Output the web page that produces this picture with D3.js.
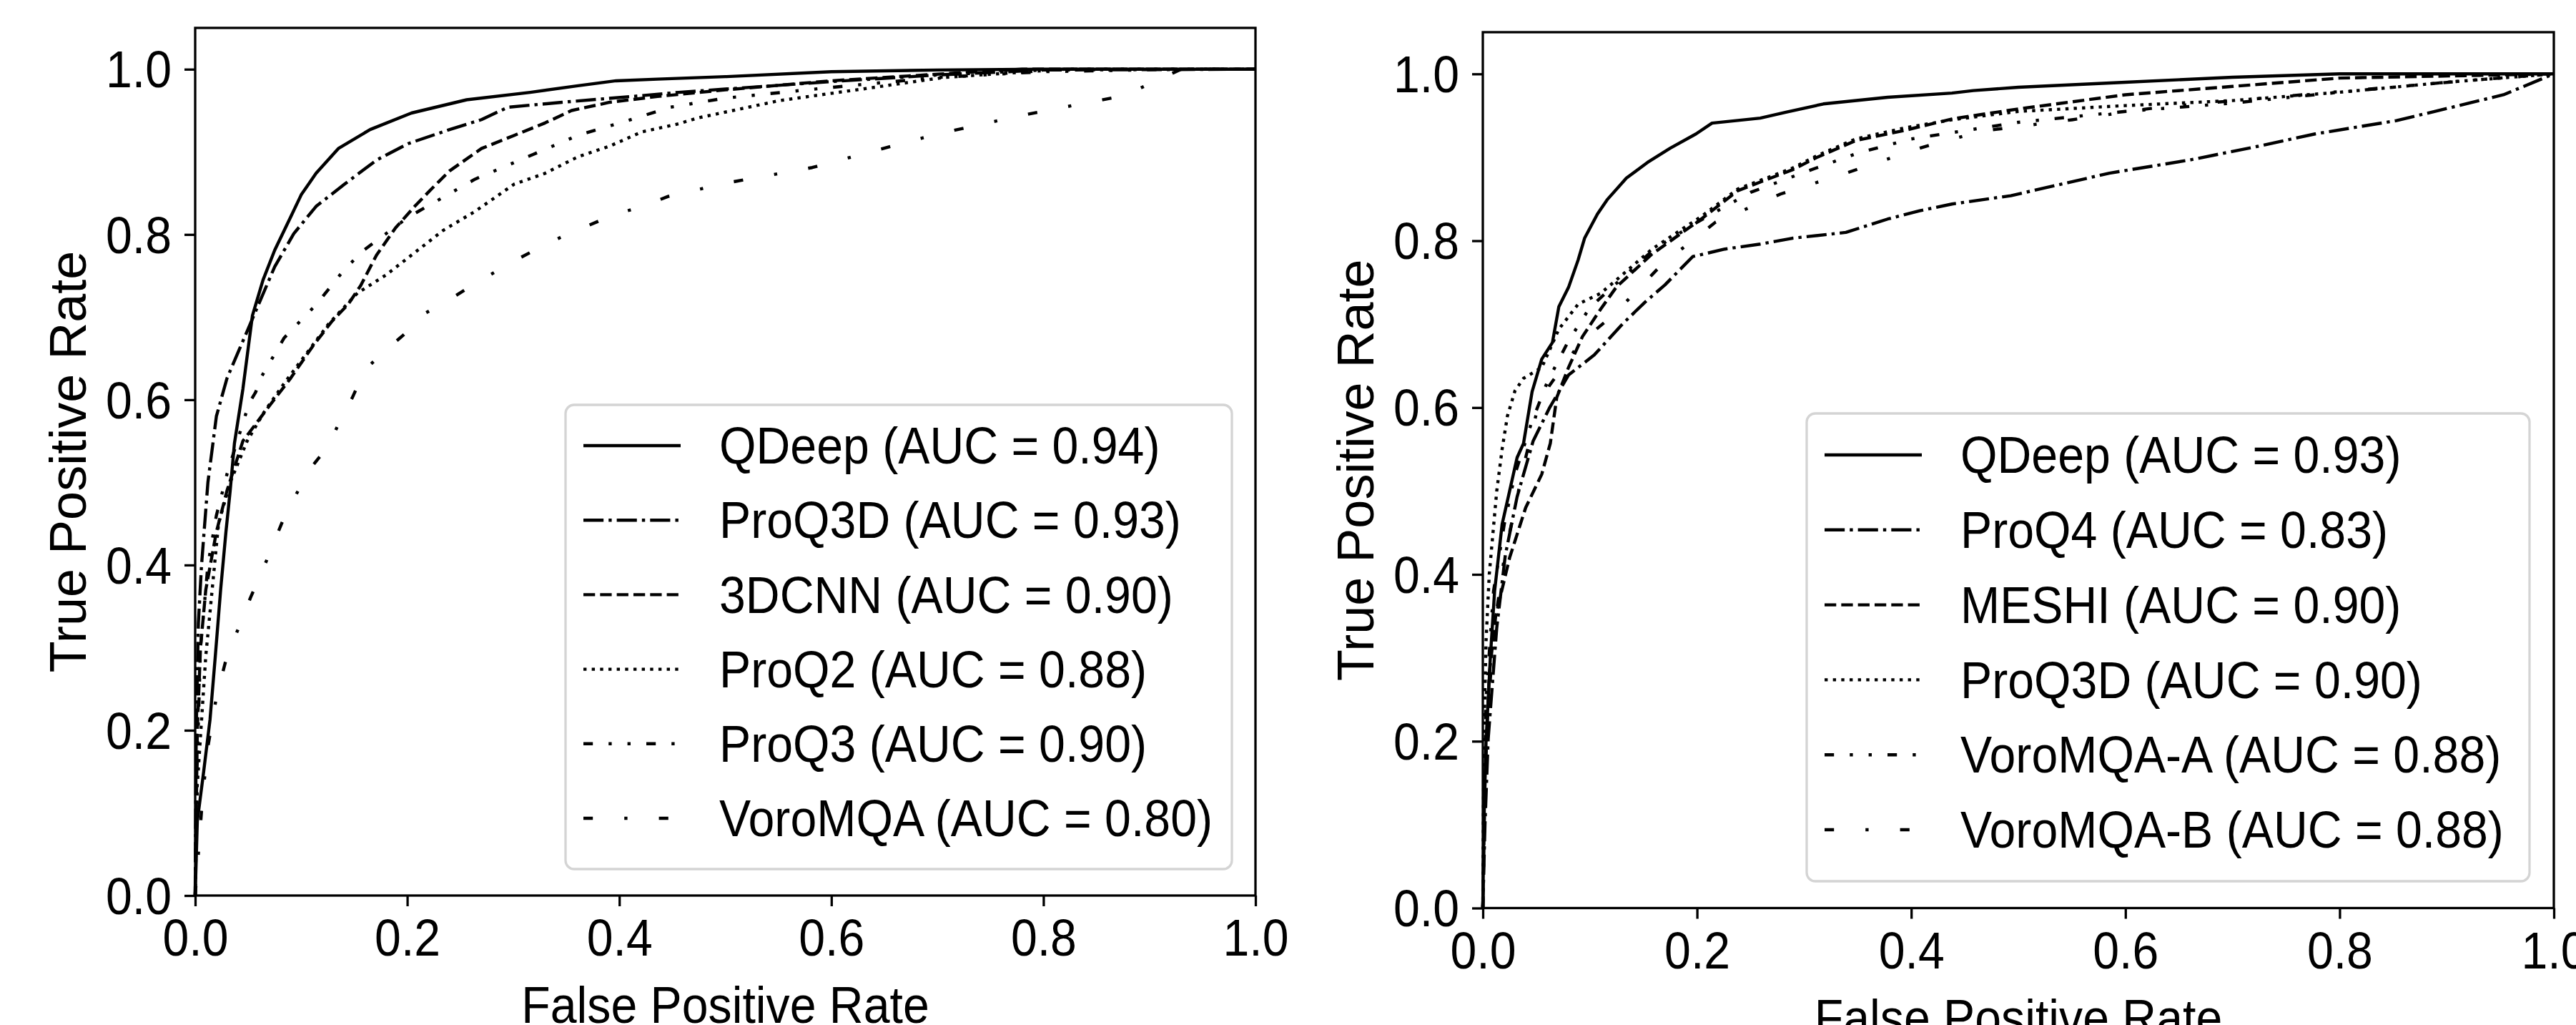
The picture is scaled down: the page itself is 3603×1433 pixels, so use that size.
<!DOCTYPE html>
<html>
<head>
<meta charset="utf-8">
<script src="https://cdn.jsdelivr.net/npm/d3@7"></script>
<style>
  body { margin: 0; background: #fff; }
  text { font-family: "Liberation Sans", Arial, Helvetica, sans-serif; fill: #000; }
</style>
</head>
<body>
<div id="chart"></div>
<script>
// ROC points, [false positive rate, true positive rate]
const qdeepLeft = [[0,0],[0.002,0.09],[0.008,0.15],[0.014,0.213],[0.019,0.29],[0.024,0.37],[0.029,0.44],[0.033,0.49],[0.037,0.547],[0.045,0.613],[0.054,0.702],[0.064,0.745],[0.075,0.781],[0.09,0.821],[0.1,0.848],[0.114,0.874],[0.135,0.904],[0.165,0.927],[0.204,0.947],[0.256,0.963],[0.316,0.972],[0.361,0.98],[0.397,0.986],[0.436,0.988],[0.5,0.991],[0.6,0.997],[0.7,0.999],[0.8,1],[1,1]];
const proq3dLeft = [[0,0],[0.001,0.2],[0.003,0.33],[0.006,0.4],[0.012,0.5],[0.02,0.58],[0.03,0.626],[0.042,0.662],[0.057,0.707],[0.075,0.761],[0.093,0.801],[0.114,0.834],[0.141,0.861],[0.171,0.89],[0.201,0.91],[0.24,0.927],[0.27,0.939],[0.295,0.954],[0.346,0.96],[0.421,0.968],[0.456,0.972],[0.5,0.976],[0.6,0.985],[0.7,0.993],[0.8,0.999],[1,1]];
const cnnLeft = [[0,0],[0.002,0.2],[0.005,0.3],[0.01,0.37],[0.02,0.44],[0.03,0.49],[0.045,0.55],[0.072,0.596],[0.09,0.626],[0.111,0.665],[0.129,0.695],[0.144,0.715],[0.156,0.738],[0.171,0.775],[0.189,0.808],[0.207,0.834],[0.222,0.854],[0.24,0.877],[0.27,0.904],[0.301,0.92],[0.33,0.935],[0.355,0.95],[0.391,0.96],[0.436,0.967],[0.5,0.975],[0.6,0.986],[0.7,0.994],[0.78,1],[1,1]];
const proq2Left = [[0,0],[0.002,0.134],[0.01,0.29],[0.022,0.45],[0.033,0.5],[0.049,0.55],[0.065,0.585],[0.084,0.62],[0.105,0.656],[0.126,0.692],[0.153,0.729],[0.18,0.751],[0.207,0.778],[0.234,0.805],[0.264,0.828],[0.301,0.861],[0.33,0.874],[0.361,0.894],[0.391,0.907],[0.421,0.924],[0.456,0.934],[0.474,0.941],[0.551,0.962],[0.629,0.976],[0.706,0.99],[0.82,1],[1,1]];
const proq3Left = [[0,0],[0.001,0.12],[0.005,0.3],[0.012,0.4],[0.02,0.46],[0.03,0.51],[0.046,0.576],[0.051,0.596],[0.057,0.609],[0.063,0.629],[0.084,0.675],[0.114,0.715],[0.141,0.758],[0.159,0.781],[0.201,0.821],[0.264,0.867],[0.319,0.897],[0.361,0.92],[0.406,0.937],[0.448,0.954],[0.5,0.965],[0.6,0.978],[0.7,0.99],[0.8,0.997],[0.93,1],[1,1]];
const voroLeft = [[0,0],[0.003,0.05],[0.007,0.12],[0.012,0.18],[0.02,0.24],[0.03,0.29],[0.041,0.324],[0.052,0.36],[0.064,0.395],[0.084,0.458],[0.107,0.514],[0.126,0.545],[0.136,0.573],[0.148,0.602],[0.16,0.636],[0.177,0.657],[0.197,0.679],[0.213,0.702],[0.236,0.718],[0.257,0.735],[0.278,0.751],[0.301,0.768],[0.323,0.783],[0.347,0.798],[0.371,0.811],[0.395,0.824],[0.422,0.834],[0.446,0.846],[0.5,0.862],[0.582,0.881],[0.698,0.921],[0.783,0.945],[0.876,0.968],[0.93,1],[1,1]];

const qdeepRight = [[0,0],[0.001,0.1],[0.003,0.2],[0.007,0.3],[0.011,0.38],[0.018,0.46],[0.025,0.5],[0.032,0.54],[0.038,0.557],[0.046,0.619],[0.055,0.658],[0.065,0.678],[0.071,0.721],[0.08,0.744],[0.089,0.777],[0.095,0.803],[0.107,0.832],[0.116,0.849],[0.134,0.875],[0.155,0.895],[0.175,0.911],[0.199,0.928],[0.214,0.941],[0.259,0.947],[0.283,0.954],[0.318,0.964],[0.378,0.972],[0.438,0.977],[0.458,0.98],[0.5,0.984],[0.6,0.99],[0.7,0.996],[0.8,1],[1,1]];
const proq4Right = [[0,0],[0.002,0.1],[0.005,0.203],[0.013,0.336],[0.021,0.423],[0.032,0.493],[0.047,0.56],[0.062,0.599],[0.08,0.639],[0.104,0.663],[0.131,0.701],[0.152,0.727],[0.17,0.747],[0.196,0.781],[0.226,0.79],[0.259,0.796],[0.289,0.803],[0.339,0.81],[0.378,0.826],[0.408,0.836],[0.438,0.844],[0.493,0.854],[0.585,0.881],[0.661,0.897],[0.723,0.913],[0.777,0.928],[0.853,0.944],[0.892,0.956],[0.953,0.975],[1,1]];
const meshiRight = [[0,0],[0.002,0.15],[0.006,0.28],[0.012,0.35],[0.025,0.42],[0.04,0.48],[0.055,0.52],[0.063,0.557],[0.069,0.612],[0.08,0.648],[0.093,0.685],[0.11,0.718],[0.125,0.745],[0.158,0.784],[0.205,0.827],[0.238,0.86],[0.289,0.885],[0.312,0.9],[0.348,0.92],[0.393,0.932],[0.438,0.946],[0.5,0.958],[0.6,0.975],[0.7,0.985],[0.8,0.995],[1,1]];
const proq3dRight = [[0,0],[0.001,0.2],[0.003,0.32],[0.006,0.4],[0.013,0.5],[0.018,0.55],[0.023,0.59],[0.03,0.62],[0.038,0.635],[0.055,0.648],[0.071,0.694],[0.089,0.724],[0.11,0.737],[0.122,0.75],[0.158,0.79],[0.205,0.83],[0.238,0.862],[0.289,0.887],[0.312,0.902],[0.348,0.922],[0.393,0.935],[0.438,0.945],[0.5,0.955],[0.6,0.962],[0.7,0.968],[0.8,0.978],[0.9,0.99],[1,1]];
const voroARight = [[0,0],[0.003,0.25],[0.01,0.38],[0.02,0.46],[0.03,0.52],[0.045,0.58],[0.06,0.63],[0.08,0.68],[0.1,0.72],[0.13,0.755],[0.16,0.79],[0.2,0.822],[0.25,0.858],[0.3,0.882],[0.35,0.905],[0.4,0.922],[0.45,0.932],[0.5,0.942],[0.6,0.955],[0.7,0.965],[0.8,0.978],[0.9,0.99],[1,1]];
const voroBRight = [[0,0],[0.003,0.2],[0.01,0.33],[0.02,0.42],[0.03,0.48],[0.04,0.54],[0.05,0.593],[0.062,0.626],[0.091,0.678],[0.122,0.711],[0.166,0.77],[0.217,0.822],[0.278,0.856],[0.339,0.881],[0.408,0.911],[0.435,0.921],[0.47,0.932],[0.55,0.945],[0.631,0.96],[0.738,0.972],[0.838,0.983],[0.92,0.992],[1,1]];

const leftLabels = ["QDeep (AUC = 0.94)", "ProQ3D (AUC = 0.93)", "3DCNN (AUC = 0.90)", "ProQ2 (AUC = 0.88)", "ProQ3 (AUC = 0.90)", "VoroMQA (AUC = 0.80)"];
const rightLabels = ["QDeep (AUC = 0.93)", "ProQ4 (AUC = 0.83)", "MESHI (AUC = 0.90)", "ProQ3D (AUC = 0.90)", "VoroMQA-A (AUC = 0.88)", "VoroMQA-B (AUC = 0.88)"];
const tickValues = [0, 0.2, 0.4, 0.6, 0.8, 1.0];
const xTitle = "False Positive Rate";
const yTitle = "True Positive Rate";

// line styles, matplotlib style dash patterns in units of line width
const lw = 4.4;
const dashes = {
    solid: null,
    dashdot: [6.4, 1.6, 1, 1.6],
    dashed: [3.7, 1.6],
    dotted: [1, 1.65],
    dashdotdot: [3, 5, 1, 5, 1, 5],
    loosedashdot: [3, 10, 1, 10]
};
const styleOrder = ["solid", "dashdot", "dashed", "dotted", "dashdotdot", "loosedashdot"];
function dashArray(name) {
    return dashes[name] ? dashes[name].map(d => d * lw).join(",") : null;
}

const fontSize = 72;
const squeeze = 0.92; // text in the picture is a bit narrow

const svg = d3.select("#chart").append("svg")
    .attr("width", 3603)
    .attr("height", 1433)
    .style("background", "#fff");

const panels = [
    { left: 273, right: 1756, top: 39, bottom: 1252,
      curves: [qdeepLeft, proq3dLeft, cnnLeft, proq2Left, proq3Left, voroLeft],
      labels: leftLabels, legend: { x: 791, y: 566, w: 932, h: 649, first: 57, step: 104.2 } },
    { left: 2074, right: 3572, top: 45, bottom: 1269.5,
      curves: [qdeepRight, proq4Right, meshiRight, proq3dRight, voroARight, voroBRight],
      labels: rightLabels, legend: { x: 2527, y: 578, w: 1011, h: 654, first: 58, step: 104.8 } }
];

panels.forEach(function(p) {
    const x = d3.scaleLinear().domain([0, 1]).range([p.left, p.right]);
    const y = d3.scaleLinear().domain([0, 1.05]).range([p.bottom, p.top]);
    const g = svg.append("g");

    const line = d3.line()
        .x(d => x(d[0]))
        .y(d => y(d[1]));

    g.selectAll("path.curve")
     .data(p.curves)
     .enter().append("path")
     .attr("class", "curve")
     .attr("d", line)
     .attr("fill", "none")
     .attr("stroke", "#000")
     .attr("stroke-width", lw)
     .attr("stroke-linejoin", "round")
     .attr("stroke-dasharray", (d, i) => dashArray(styleOrder[i]));

    // axes
    const xAxis = g.append("g")
        .attr("transform", "translate(0," + p.bottom + ")")
        .call(d3.axisBottom(x).tickValues(tickValues).tickFormat(d3.format(".1f"))
              .tickSize(15).tickSizeOuter(0).tickPadding(18));
    const yAxis = g.append("g")
        .attr("transform", "translate(" + p.left + ",0)")
        .call(d3.axisLeft(y).tickValues(tickValues).tickFormat(d3.format(".1f"))
              .tickSize(15).tickSizeOuter(0));

    [xAxis, yAxis].forEach(function(a) {
        a.select(".domain").remove();
        a.selectAll("line").attr("stroke", "#000").attr("stroke-width", 3.3);
        a.selectAll("text")
         .attr("font-size", fontSize)
         .attr("font-family", "Liberation Sans, Arial, sans-serif")
         .attr("fill", "#000");
    });
    xAxis.selectAll("text").attr("transform", "scale(" + squeeze + ",1)");
    yAxis.selectAll("text")
         .attr("x", -33 / squeeze)
         .attr("dy", "0.35em")
         .attr("transform", "scale(" + squeeze + ",1)");

    // frame
    g.append("rect")
     .attr("x", p.left).attr("y", p.top)
     .attr("width", p.right - p.left).attr("height", p.bottom - p.top)
     .attr("fill", "none").attr("stroke", "#000").attr("stroke-width", 3.3);

    // axis titles
    g.append("text")
     .attr("transform", "translate(" + (p.left + p.right) / 2 + "," + (p.bottom + 178) + ") scale(" + squeeze + ",1)")
     .attr("text-anchor", "middle")
     .attr("font-size", fontSize)
     .text(xTitle);
    g.append("text")
     .attr("transform", "translate(" + (p.left - 153) + "," + (p.top + p.bottom) / 2 + ") rotate(-90)")
     .attr("text-anchor", "middle")
     .attr("font-size", fontSize)
     .text(yTitle);

    // legend
    const L = p.legend;
    const leg = g.append("g");
    leg.append("rect")
       .attr("x", L.x).attr("y", L.y)
       .attr("width", L.w).attr("height", L.h)
       .attr("rx", 12).attr("ry", 12)
       .attr("fill", "#fff").attr("fill-opacity", 0.8)
       .attr("stroke", "#d4d4d4").attr("stroke-width", 3.3);

    const rows = leg.selectAll("g.row")
        .data(p.labels)
        .enter().append("g")
        .attr("class", "row")
        .attr("transform", (d, i) => "translate(" + L.x + "," + (L.y + L.first + i * L.step) + ")");

    rows.append("line")
        .attr("x1", 25).attr("x2", 161)
        .attr("y1", 0).attr("y2", 0)
        .attr("stroke", "#000")
        .attr("stroke-width", lw)
        .attr("stroke-dasharray", (d, i) => dashArray(styleOrder[i]));

    rows.append("text")
        .attr("transform", "translate(215,0) scale(" + squeeze + ",1)")
        .attr("dy", "0.35em")
        .attr("font-size", fontSize)
        .text(d => d);
});
</script>
</body>
</html>
